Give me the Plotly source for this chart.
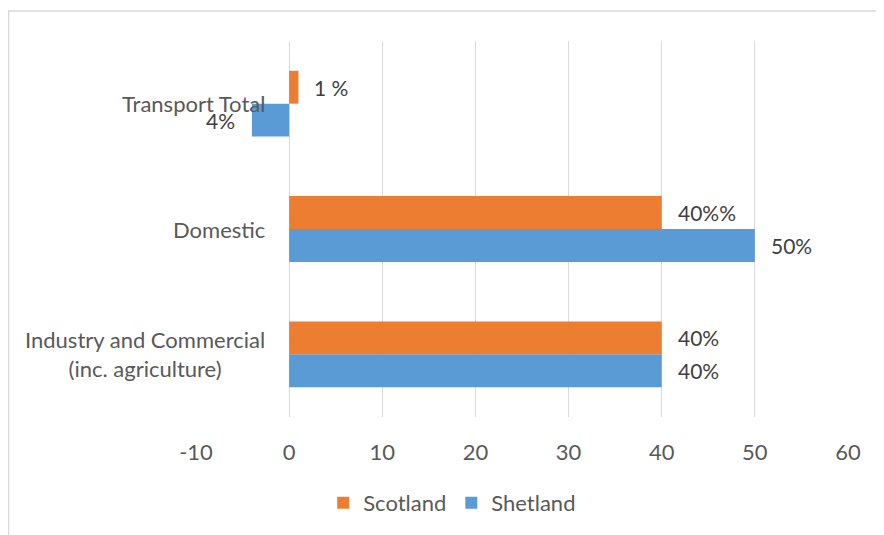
import plotly.graph_objects as go

categories = ["Industry and Commercial<br>(inc. agriculture)", "Domestic", "Transport Total"]
scotland = [40, 40, 1]
shetland = [40, 50, -4]
scotland_labels = ["40%", "40%%", "1 %"]
shetland_labels = ["40%", "50%", "4%"]
x_ticks = [-10, 0, 10, 20, 30, 40, 50, 60]
x_tick_labels = ["-10", "0", "10", "20", "30", "40", "50", "60"]

FONT = "Lato"
ORANGE = "#ED7D31"
BLUE = "#5B9BD5"
FS = 22

fig = go.Figure()
fig.add_trace(go.Bar(y=categories, x=shetland, name="Shetland", orientation="h",
                     marker=dict(color=BLUE, line=dict(width=0)), legendrank=2))
fig.add_trace(go.Bar(y=categories, x=scotland, name="Scotland", orientation="h",
                     marker=dict(color=ORANGE, line=dict(width=0)), legendrank=1))

annotations = []
for cat, v, lab in zip(categories, scotland, scotland_labels):
    annotations.append(dict(x=v, y=cat, xref="x", yref="y", text=lab, showarrow=False,
                            xanchor="left" if v >= 0 else "right",
                            xshift=14 if v >= 0 else -14, yshift=16.5,
                            font=dict(family=FONT, size=21, color="#404040")))
for cat, v, lab in zip(categories, shetland, shetland_labels):
    annotations.append(dict(x=v, y=cat, xref="x", yref="y", text=lab, showarrow=False,
                            xanchor="left" if v >= 0 else "right",
                            xshift=14 if v >= 0 else -15, yshift=-16.5,
                            font=dict(family=FONT, size=21, color="#404040")))
for cat in categories:
    annotations.append(dict(x=0, y=cat, xref="x", yref="y", text=cat, showarrow=False,
                            xanchor="right", xshift=-22, align="center",
                            font=dict(family=FONT, size=FS, color="#595959")))

fig.update_layout(
    width=876, height=527,
    margin=dict(l=188, r=36, t=33, b=117),
    paper_bgcolor="white", plot_bgcolor="white",
    barmode="group", bargap=0.475, bargroupgap=0,
    font=dict(family=FONT, size=FS, color="#595959"),
    xaxis=dict(range=[-10, 60], tickvals=x_ticks, ticktext=x_tick_labels,
               showgrid=True, gridcolor="#d9d9d9",
               gridwidth=1, zeroline=True, zerolinecolor="#d9d9d9", zerolinewidth=1,
               showline=False, ticks="", tickfont=dict(family=FONT, size=FS, color="#595959"),
               ticklabelstandoff=20),
    yaxis=dict(showticklabels=False, showgrid=False, zeroline=False, showline=False, ticks=""),
    legend=dict(orientation="h", x=0.393, xanchor="center", y=-0.225, yanchor="middle",
                font=dict(family=FONT, size=FS, color="#595959"), itemwidth=30,
                traceorder="normal"),
    annotations=annotations,
    shapes=[dict(type="rect", xref="paper", yref="paper", x0=-0.2876, x1=1.2, y0=-0.6, y1=1.0796,
                 line=dict(color="#d9d9d9", width=1.5), fillcolor="rgba(0,0,0,0)", layer="below")],
    showlegend=True,
)

fig.write_html("out.html")
